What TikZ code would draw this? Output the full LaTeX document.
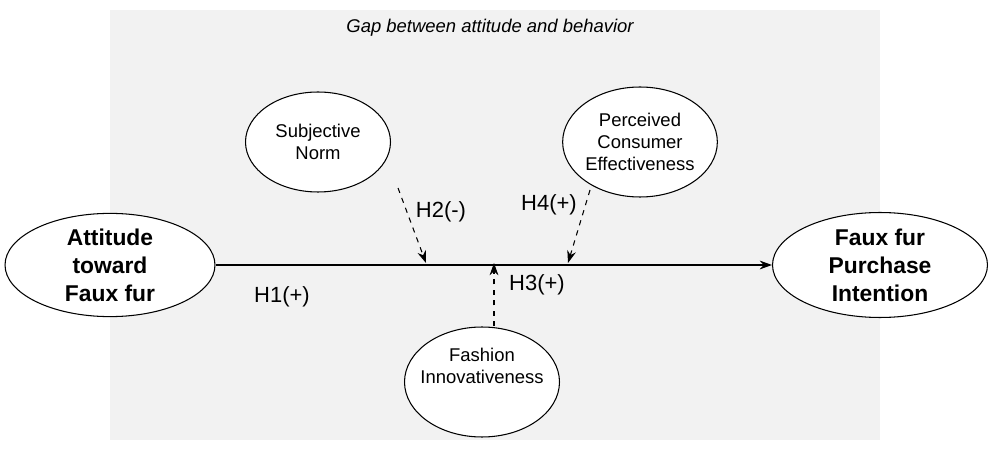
\documentclass[tikz,border=0pt]{standalone}
\usepackage{fontspec}
\setmainfont{Liberation Sans}
\usetikzlibrary{shapes.geometric,arrows.meta}
\begin{document}
\begin{tikzpicture}[x=0.02cm,y=-0.02cm,
  ell/.style={ellipse,draw,fill=white,line width=0.6pt,align=center,inner sep=0pt},
  small/.style={font=\fontsize{10.5}{12.5}\selectfont},
  big/.style={font=\fontsize{13}{16}\selectfont\bfseries},
  lab/.style={font=\fontsize{12.5}{15}\selectfont},
  arr/.style={-{Stealth[length=7pt,width=5pt]},line width=0.8pt},
  darr/.style={arr,dashed,line width=0.6pt}]
\useasboundingbox (0,0) rectangle (1000,452);
\fill[black!5] (110,10) rectangle (880,440);
\node[font=\fontsize{10.5}{12}\selectfont\itshape] (title) at (490,28) {Gap between attitude and behavior};
\node[ell,big,minimum width=4.2cm,minimum height=2cm] (att) at (110,265) {Attitude\\toward\\Faux fur};
\node[ell,big,minimum width=4.3cm,minimum height=2.1cm] (pi) at (880,265) {Faux fur\\Purchase\\Intention};
\node[ell,small,minimum width=2.9cm,minimum height=2cm] (sn) at (318,142) {Subjective\\Norm};
\node[ell,small,minimum width=3cm,minimum height=2.2cm] (pce) at (640,142) {Perceived\\Consumer\\Effectiveness};
\node[ell,minimum width=3.1cm,minimum height=2.2cm] (fi) at (482,382) {};
\node[small,align=center] (fit) at (482,366) {Fashion\\Innovativeness};
\coordinate (m2) at (426,263);
\coordinate (m4) at (568,263);
\coordinate (m3) at (494,263);
\draw[arr] (att.east) -- (pi.west);
\draw[darr] (sn) ++(80,46) coordinate (s2) (s2) -- (m2);
\draw[darr] (pce) ++(-50,48) coordinate (s4) (s4) -- (m4);
\draw[darr] (fi.north -| m3) -- (m3);
\node[lab] (h1) at (282,297) {H1(+)};
\node[lab] (h2) at (441,212) {H2(-)};
\node[lab] (h4) at (549,205) {H4(+)};
\node[lab] (h3) at (537,285) {H3(+)};
\end{tikzpicture}
\end{document}
